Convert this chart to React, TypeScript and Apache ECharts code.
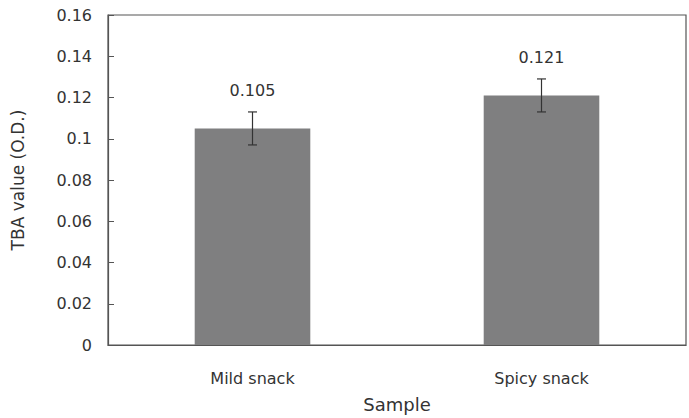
import React, { useEffect, useRef } from "react";
import * as echarts from "echarts";

const categories = ["Mild snack", "Spicy snack"];
const values = [0.105, 0.121];
const errors = [0.008, 0.008];
const valueLabels = ["0.105", "0.121"];

export default function App() {
  const ref = useRef<HTMLDivElement>(null);
  useEffect(() => {
    const chart = echarts.init(ref.current!, null, { renderer: "svg" });
    const font = "DejaVu Sans, Arial, sans-serif";
    chart.setOption({
      animation: false,
      grid: {
        left: 108,
        right: 3,
        top: 15,
        bottom: 73,
        outerBoundsMode: "none",
        containLabel: false,
        show: true,
        borderColor: "#555",
        borderWidth: 1.2,
      },
      xAxis: {
        type: "category",
        data: categories,
        name: "Sample",
        nameLocation: "middle",
        nameGap: 50,
        nameTextStyle: { fontSize: 18, color: "#333", fontFamily: font },
        axisLine: { lineStyle: { color: "#555", width: 1.2 } },
        axisTick: { inside: true, length: 6, lineStyle: { color: "#555" } },
        axisLabel: { fontSize: 16, color: "#333", margin: 25, fontFamily: font },
      },
      yAxis: {
        type: "value",
        min: 0,
        max: 0.16,
        interval: 0.02,
        name: "TBA value (O.D.)",
        nameLocation: "middle",
        nameGap: 82,
        nameTextStyle: { fontSize: 17, color: "#333", fontFamily: font },
        splitLine: { show: false },
        axisLine: { show: true, lineStyle: { color: "#555", width: 1.2 } },
        axisTick: { show: true, inside: true, length: 6, lineStyle: { color: "#555" } },
        axisLabel: {
          fontSize: 16,
          color: "#333",
          margin: 16,
          fontFamily: font,
          formatter: (v: number) => String(parseFloat(v.toFixed(2))),
        },
      },
      series: [
        {
          type: "bar",
          data: values,
          barWidth: "40%",
          itemStyle: { color: "#7f7f80" },
        },
        {
          type: "custom",
          data: values.map((v, i) => [i, v, errors[i]]),
          z: 10,
          renderItem: (params: any, api: any) => {
            const i = api.value(0);
            const v = api.value(1);
            const e = api.value(2);
            const top = api.coord([i, v + e]);
            const bot = api.coord([i, v - e]);
            const x = top[0];
            const cap = 4.5;
            const style = { stroke: "#333", lineWidth: 1.2 };
            return {
              type: "group",
              children: [
                { type: "line", shape: { x1: x, y1: top[1], x2: x, y2: bot[1] }, style },
                { type: "line", shape: { x1: x - cap, y1: top[1], x2: x + cap, y2: top[1] }, style },
                { type: "line", shape: { x1: x - cap, y1: bot[1], x2: x + cap, y2: bot[1] }, style },
                {
                  type: "text",
                  x: x,
                  y: top[1] - 21,
                  style: {
                    text: valueLabels[params.dataIndex],
                    fill: "#333",
                    fontSize: 16,
                    fontFamily: font,
                    align: "center",
                    verticalAlign: "middle",
                  },
                },
              ],
            };
          },
        },
      ],
    });
    return () => chart.dispose();
  }, []);
  return <div ref={ref} style={{ width: 689, height: 418, position: "absolute", left: 0, top: 0 }} />;
}
